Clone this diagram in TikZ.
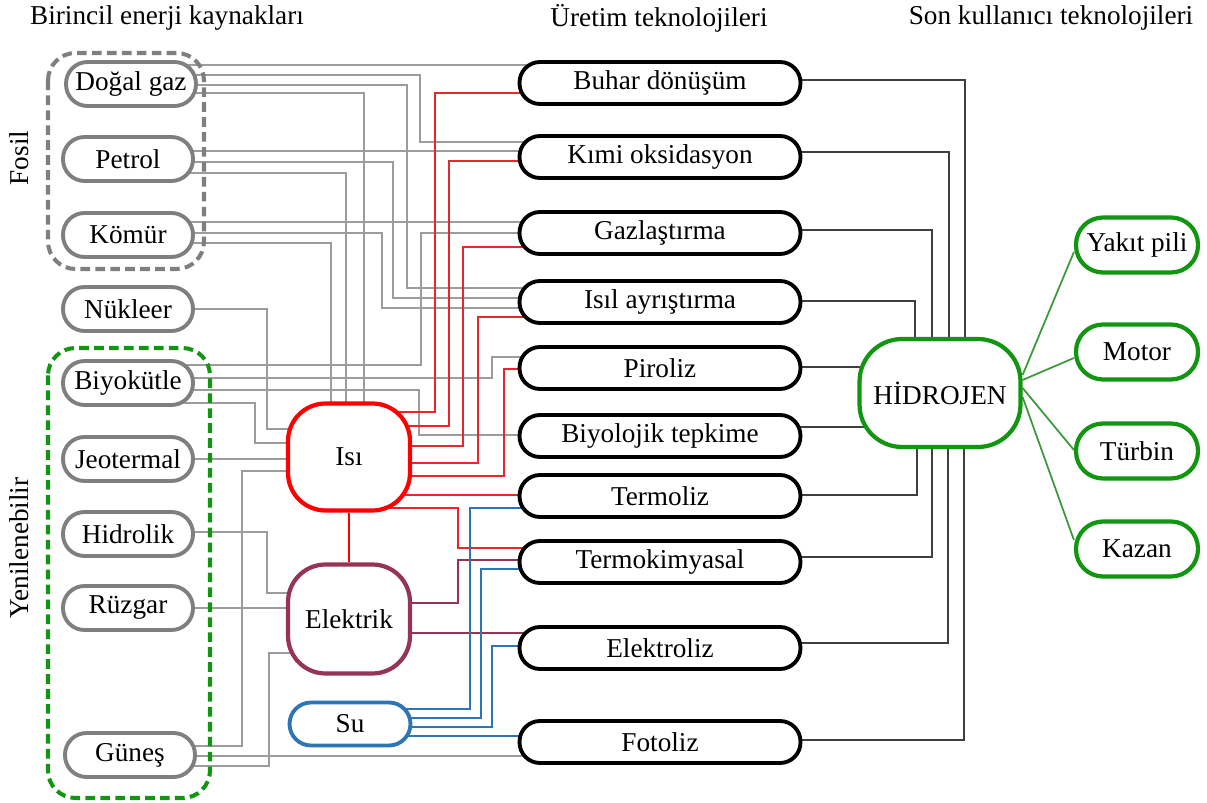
\documentclass[tikz,border=0pt]{standalone}
\usepackage{fontspec}
\setmainfont{Liberation Serif}
\usetikzlibrary{backgrounds}
\definecolor{kGray}{HTML}{7F7F7F}
\definecolor{lGray}{HTML}{9C9C9C}
\definecolor{hGreen}{HTML}{129612}
\definecolor{lGreen}{HTML}{3A9A3A}
\definecolor{isiRed}{HTML}{FF0000}
\definecolor{lRed}{HTML}{E8262B}
\definecolor{elRed}{HTML}{953553}
\definecolor{suBlue}{HTML}{2E75B6}
\definecolor{lDark}{HTML}{3F3F3F}
\tikzset{
  kaynak/.style={draw=kGray, line width=2.2pt, fill=white, rounded corners=0.43cm,
    minimum width=2.6cm, minimum height=0.88cm, inner sep=0pt},
  teknoloji/.style={draw=black, line width=2.2pt, fill=white, rounded corners=0.41cm,
    minimum width=5.62cm, minimum height=0.84cm, inner sep=0pt},
  ara/.style={line width=2.4pt, fill=white, rounded corners=0.75cm,
    minimum width=2.44cm, minimum height=2.14cm, inner sep=0pt},
  kullanim/.style={draw=hGreen, line width=2.4pt, fill=white, rounded corners=0.54cm,
    minimum width=2.44cm, minimum height=1.1cm, inner sep=0pt},
  grup/.style={line width=2.3pt, dash pattern=on 5.5pt off 3pt, rounded corners=0.55cm},
  gri/.style={lGray, line width=0.9pt},
  kirmizi/.style={lRed, line width=0.9pt},
  bordo/.style={elRed, line width=0.9pt},
  mavi/.style={suBlue, line width=0.9pt},
  koyu/.style={lDark, line width=1pt},
  yesil/.style={lGreen, line width=1pt}
}

\begin{document}
\begin{tikzpicture}[x=0.02cm, y=-0.02cm, every node/.style={font=\fontsize{15.5}{18}\selectfont}]
    \useasboundingbox (0,0) rectangle (1207,803);

    % basliklar
    \node (h1) at (167,18) {Birincil enerji kaynakları};
    \node (h2) at (659,18) {Üretim teknolojileri};
    \node (h3) at (1051,18) {Son kullanıcı teknolojileri};

    % kaynaklar
    \draw[grup, kGray] (48,53) rectangle (204,269);
    \draw[grup, hGreen] (48,348) rectangle (210,798);
    \node[rotate=90] (fosil) at (19,158) {Fosil};
    \node[rotate=90] (yenil) at (19,548) {Yenilenebilir};
    \node[kaynak] (dg) at (131,84) {Doğal gaz};
    \node[kaynak] (pt) at (128,159) {Petrol};
    \node[kaynak] (km) at (128,235) {Kömür};
    \node[kaynak] (nk) at (128,309) {Nükleer};
    \node[kaynak] (bk) at (128,383) {Biyokütle};
    \node[kaynak] (jt) at (128,459) {Jeotermal};
    \node[kaynak] (hd) at (128,534) {Hidrolik};
    \node[kaynak] (rz) at (128,608) {Rüzgar};
    \node[kaynak] (gn) at (130,755) {Güneş};

    % ara enerji
    \node[ara, draw=isiRed] (isi) at (349,457) {Isı};
    \node[ara, draw=elRed, minimum height=2.18cm] (el) at (349,619) {Elektrik};
    \node[kaynak, draw=suBlue, minimum width=2.42cm, minimum height=0.86cm] (su) at (350,724) {Su};

    % uretim
    \node[teknoloji] (buhar) at (660,83) {Buhar dönüşüm};
    \node[teknoloji] (kimi) at (660,157) {Kımi oksidasyon};
    \node[teknoloji] (gaz) at (660,233) {Gazlaştırma};
    \node[teknoloji] (isil) at (660,302) {Isıl ayrıştırma};
    \node[teknoloji] (pir) at (660,368) {Piroliz};
    \node[teknoloji] (biy) at (660,436) {Biyolojik tepkime};
    \node[teknoloji] (termo) at (660,496) {Termoliz};
    \node[teknoloji] (tkim) at (660,562) {Termokimyasal};
    \node[teknoloji] (elz) at (660,648) {Elektroliz};
    \node[teknoloji] (foto) at (660,742) {Fotoliz};

    % son kullanim
    \node[ara, draw=hGreen, minimum width=3.22cm, minimum height=2.16cm, rounded corners=0.85cm] (hid) at (940,393) {HİDROJEN};
    \node[kullanim] (yakit) at (1137,245) {Yakıt pili};
    \node[kullanim] (motor) at (1137,352) {Motor};
    \node[kullanim] (turbin) at (1137,451) {Türbin};
    \node[kullanim] (kazan) at (1137,549) {Kazan};

    \begin{scope}[on background layer]
      % gri baglantilar
      \draw[gri] (dg |- 0,65) -- (buhar |- 0,65);
      \draw[gri] (dg |- 0,75) -| (420,142) -- (kimi |- 0,142);
      \draw[gri] (dg |- 0,85) -| (407,288) -- (isil |- 0,288);
      \draw[gri] (dg |- 0,93) -| (364,457);
      \draw[gri] (pt |- 0,151) -- (kimi |- 0,151);
      \draw[gri] (pt |- 0,162) -| (393,298) -- (isil |- 0,298);
      \draw[gri] (pt |- 0,173) -| (346,457);
      \draw[gri] (km |- 0,222) -- (gaz |- 0,222);
      \draw[gri] (km |- 0,233) -| (382,308) -- (isil |- 0,308);
      \draw[gri] (km |- 0,243) -| (331,457);
      \draw[gri] (nk |- 0,309) -| (267,429) -- (isi |- 0,429);
      \draw[gri] (bk |- 0,365) -| (421,233) -- (gaz |- 0,233);
      \draw[gri] (bk |- 0,378) -| (492,357) -- (pir |- 0,357);
      \draw[gri] (bk |- 0,390) -| (419,435) -- (biy |- 0,435);
      \draw[gri] (bk |- 0,403) -| (255,443) -- (isi |- 0,443);
      \draw[gri] (jt) -- (isi |- jt);
      \draw[gri] (gn |- 0,746) -| (242,471) -- (isi |- 0,471);
      \draw[gri] (gn |- 0,756) -- (foto |- 0,756);
      \draw[gri] (gn |- 0,766) -| (269,653) -- (el |- 0,653);
      \draw[gri] (hd |- 0,532) -| (267,593) -- (el |- 0,593);
      \draw[gri] (rz |- 0,608) -- (el |- 0,608);
      % isi
      \draw[kirmizi, isiRed, line width=1.2pt] (isi) -- (el);
      \draw[kirmizi] (isi |- 0,412) -| (435,93) -- (buhar |- 0,93);
      \draw[kirmizi] (isi |- 0,426) -| (449,161) -- (kimi |- 0,161);
      \draw[kirmizi] (isi |- 0,446) -| (463,247) -- (gaz |- 0,247);
      \draw[kirmizi] (isi |- 0,463) -| (478,317) -- (isil |- 0,317);
      \draw[kirmizi] (isi |- 0,476) -| (504,369) -- (pir |- 0,369);
      \draw[kirmizi] (isi |- 0,495) -- (termo |- 0,495);
      \draw[kirmizi] (isi |- 0,508) -| (458,548) -- (tkim |- 0,548);
      % elektrik
      \draw[bordo] (el |- 0,603) -| (458,560) -- (tkim |- 0,560);
      \draw[bordo] (el |- 0,633) -- (elz |- 0,633);
      % su
      \draw[mavi] (su |- 0,709) -| (470,508) -- (termo |- 0,508);
      \draw[mavi] (su |- 0,718) -| (481,569) -- (tkim |- 0,569);
      \draw[mavi] (su |- 0,727) -| (492,646) -- (elz |- 0,646);
      \draw[mavi] (su |- 0,736) -- (foto |- 0,736);
      % hidrojen
      \draw[koyu] (buhar |- 0,80) -| (965,393);
      \draw[koyu] (kimi |- 0,152) -| (949,393);
      \draw[koyu] (gaz |- 0,230) -| (932,393);
      \draw[koyu] (isil |- 0,301) -| (915,393);
      \draw[koyu] (pir |- 0,367) -- (hid |- 0,367);
      \draw[koyu] (biy |- 0,427) -- (hid |- 0,427);
      \draw[koyu] (termo |- 0,495) -| (917,393);
      \draw[koyu] (tkim |- 0,557) -| (932,393);
      \draw[koyu] (elz |- 0,643) -| (948,393);
      \draw[koyu] (foto |- 0,740) -| (964,393);
      \draw[yesil] (hid.east |- 0,375) -- (yakit.west |- 0,252);
      \draw[yesil] (hid.east |- 0,380) -- (motor.west |- 0,358);
      \draw[yesil] (hid.east |- 0,388) -- (turbin.west |- 0,450);
      \draw[yesil] (hid.east |- 0,397) -- (kazan.west |- 0,540);
    \end{scope}
  \end{tikzpicture}
\end{document}
